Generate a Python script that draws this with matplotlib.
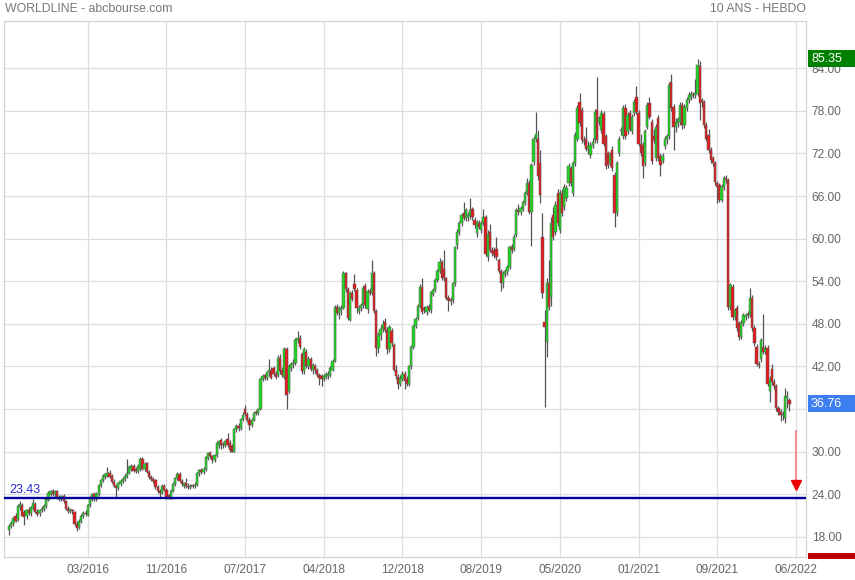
import matplotlib
matplotlib.use('Agg')
import matplotlib.pyplot as plt
from matplotlib.patches import Rectangle
from matplotlib.transforms import blended_transform_factory

plt.rcParams['font.family'] = ['Liberation Sans', 'DejaVu Sans']

# weekly candles, one per week (index 0 = first week shown)
opens = [
  19.0, 19.6, 20.0, 21.0, 20.5, 22.2, 22.5, 21.5, 20.9, 21.8,
  21.4, 22.1, 22.6, 21.5, 21.3, 21.8, 22.0, 22.3, 23.2, 24.0,
  24.5, 24.0, 24.5, 23.6, 23.3, 23.8, 23.0, 22.0, 21.6, 21.8,
  21.5, 19.8, 19.4, 20.3, 21.0, 21.4, 21.1, 22.5, 23.3, 24.0,
  23.3, 24.0, 25.3, 26.0, 26.5, 26.6, 27.0, 26.6, 25.8, 25.2,
  24.9, 25.5, 25.9, 26.2, 26.6, 27.0, 27.6, 28.0, 27.5, 27.3,
  27.5, 29.0, 27.6, 28.4, 27.2, 26.4, 26.1, 26.0, 25.0, 24.5,
  24.2, 25.2, 24.6, 23.9, 23.5, 24.5, 25.5, 26.3, 26.9, 25.9,
  25.2, 25.6, 25.2, 25.0, 25.2, 25.1, 25.3, 27.0, 27.4, 27.1,
  27.5, 29.1, 29.8, 29.4, 28.8, 29.5, 31.0, 31.6, 31.0, 30.9,
  31.8, 31.2, 30.8, 30.0, 33.2, 33.6, 33.3, 34.6, 36.0, 35.3,
  34.5, 33.8, 34.5, 35.6, 35.4, 36.0, 40.2, 40.8, 40.4, 41.2,
  41.5, 41.8, 41.0, 40.8, 43.2, 41.5, 40.5, 44.5, 38.5, 41.8,
  42.3, 42.5, 45.8, 46.0, 43.7, 41.3, 44.0, 42.0, 43.0, 41.5,
  42.0, 41.5, 40.8, 40.6, 40.2, 40.5, 40.6, 40.8, 41.5, 42.8,
  50.4, 49.6, 50.0, 50.3, 55.2, 52.9, 48.6, 52.3, 53.6, 52.8,
  49.8, 50.2, 50.6, 53.3, 50.1, 52.6, 52.3, 55.1, 49.8, 44.6,
  46.5, 47.3, 48.2, 47.2, 44.4, 47.0, 45.0, 41.5, 40.5, 39.6,
  40.3, 41.0, 40.2, 39.6, 42.0, 44.8, 47.7, 48.8, 50.5, 53.2,
  50.2, 49.7, 50.4, 50.0, 52.2, 52.8, 54.2, 55.5, 56.7, 55.8,
  54.4, 51.6, 51.4, 51.4, 53.7, 59.1, 61.0, 62.2, 63.6, 62.9,
  63.0, 63.2, 64.2, 62.6, 60.8, 62.2, 61.2, 62.2, 63.1, 57.4,
  61.0, 58.4, 58.4, 58.6, 57.0, 55.5, 53.7, 55.0, 55.5, 56.0,
  58.8, 58.6, 60.5, 64.0, 63.8, 64.2, 65.1, 66.4, 67.8, 63.8,
  70.8, 74.1, 74.0, 70.6, 60.3, 48.3, 45.5, 53.7, 51.8, 63.3,
  61.0, 66.4, 61.2, 66.4, 64.5, 65.7, 67.8, 69.9, 66.4, 70.6,
  74.1, 79.3, 78.1, 73.9, 74.1, 72.7, 71.8, 73.2, 73.9, 78.1,
  76.5, 75.3, 77.6, 74.4, 72.0, 70.6, 72.5, 69.0, 63.6, 72.0,
  75.1, 74.4, 78.4, 75.1, 77.7, 75.1, 77.7, 80.0, 77.7, 73.4,
  73.2, 70.6, 75.8, 79.1, 76.5, 74.5, 71.3, 77.0, 71.6, 71.0,
  73.0, 74.0, 74.4, 82.1, 78.6, 75.8, 76.3, 76.5, 78.8, 76.0,
  78.4, 79.5, 80.0, 80.4, 80.2, 80.5, 84.3, 79.5, 79.3, 76.0,
  74.6, 72.5, 71.3, 70.6, 67.8, 67.6, 65.5, 67.3, 68.5, 68.3,
  50.4, 53.2, 49.0, 50.2, 48.1, 46.2, 48.1, 49.0, 49.4, 49.3,
  51.6, 47.4, 44.8, 42.4, 43.0, 44.8, 44.1, 44.6, 38.5, 41.7,
  39.8, 39.2, 36.1, 35.6, 35.2, 34.8, 37.6, 37.3,
]
highs = [
  19.8, 20.3, 20.8, 21.3, 22.6, 23.0, 22.8, 21.8, 22.0, 22.2,
  22.4, 23.3, 22.9, 21.9, 22.0, 22.3, 22.6, 23.5, 24.4, 24.6,
  24.7, 24.6, 24.6, 23.9, 23.9, 24.0, 23.2, 22.4, 22.1, 22.0,
  21.7, 20.2, 20.5, 21.2, 21.7, 21.8, 22.7, 23.7, 24.2, 24.3,
  24.3, 25.5, 26.2, 26.9, 27.0, 27.8, 27.4, 26.9, 26.1, 25.5,
  25.8, 26.1, 26.4, 26.9, 29.0, 28.1, 28.3, 28.2, 27.8, 28.2,
  29.2, 29.2, 28.5, 28.6, 27.4, 26.7, 26.4, 26.2, 25.3, 24.8,
  25.5, 25.4, 24.9, 24.1, 24.7, 25.7, 26.5, 27.2, 27.1, 26.1,
  25.8, 26.3, 25.6, 25.5, 25.4, 25.8, 27.2, 27.6, 27.7, 27.8,
  29.4, 30.0, 30.1, 29.6, 29.7, 31.5, 31.7, 31.9, 31.3, 31.7,
  32.6, 31.6, 31.1, 33.4, 33.9, 34.0, 34.8, 35.6, 36.6, 35.6,
  34.9, 34.8, 35.7, 35.9, 36.2, 40.4, 40.9, 41.0, 41.4, 43.0,
  41.9, 42.0, 41.3, 43.6, 43.8, 41.9, 44.8, 44.7, 42.3, 42.6,
  43.0, 46.0, 47.0, 46.4, 44.0, 44.8, 44.5, 43.5, 43.4, 42.5,
  42.4, 41.8, 41.1, 40.9, 41.0, 41.2, 41.3, 42.0, 43.0, 50.6,
  50.8, 50.5, 50.6, 55.4, 55.3, 53.2, 52.6, 52.8, 55.0, 53.0,
  50.7, 51.0, 53.5, 53.8, 52.9, 53.0, 57.0, 55.4, 50.1, 46.8,
  47.8, 48.5, 48.8, 47.5, 47.8, 47.4, 45.3, 42.2, 41.0, 40.8,
  41.3, 41.4, 40.6, 42.2, 45.0, 47.9, 49.0, 50.8, 53.6, 54.5,
  50.5, 50.7, 50.8, 52.7, 53.1, 54.5, 55.8, 57.3, 57.0, 58.4,
  54.6, 52.0, 51.8, 53.9, 59.0, 61.3, 62.5, 63.6, 65.2, 64.3,
  63.8, 65.8, 64.5, 63.0, 62.7, 62.6, 62.5, 64.2, 63.4, 61.2,
  62.0, 58.9, 58.8, 60.2, 57.3, 55.8, 55.4, 55.8, 56.3, 59.1,
  59.2, 60.6, 64.3, 64.9, 64.6, 65.4, 66.7, 68.6, 68.2, 70.7,
  74.4, 77.8, 75.3, 72.5, 63.6, 50.0, 54.5, 57.0, 63.0, 64.5,
  65.3, 67.0, 66.9, 67.0, 67.7, 67.6, 70.6, 70.3, 71.0, 75.0,
  78.8, 80.5, 78.6, 74.5, 75.8, 73.8, 73.6, 74.2, 78.3, 82.8,
  77.3, 78.1, 78.0, 74.8, 72.4, 72.2, 73.0, 69.4, 71.0, 74.5,
  75.7, 78.8, 78.9, 77.8, 78.1, 77.6, 79.7, 81.5, 78.1, 74.8,
  73.6, 75.5, 79.2, 80.0, 76.9, 75.5, 76.2, 77.4, 72.0, 72.0,
  74.5, 74.8, 82.1, 83.2, 79.0, 77.0, 77.2, 79.2, 79.3, 79.0,
  80.0, 80.6, 80.8, 80.7, 82.5, 85.35, 85.0, 79.8, 79.6, 76.4,
  75.4, 72.9, 71.7, 71.0, 68.1, 67.9, 67.7, 68.9, 69.0, 68.6,
  53.7, 53.6, 50.2, 50.6, 48.4, 48.5, 49.5, 49.6, 49.8, 53.0,
  52.0, 47.8, 45.2, 42.8, 46.0, 49.4, 45.0, 45.0, 40.7, 42.3,
  40.2, 39.6, 36.5, 36.0, 35.8, 39.0, 38.5, 37.6,
]
lows = [
  18.3, 19.2, 19.6, 20.1, 20.2, 21.8, 20.9, 19.7, 20.5, 21.1,
  21.0, 21.8, 21.3, 20.9, 21.0, 21.5, 21.7, 22.1, 23.0, 23.7,
  23.8, 23.6, 23.3, 23.1, 23.0, 22.8, 21.8, 21.4, 21.3, 21.2,
  19.6, 18.8, 19.1, 20.0, 20.7, 20.9, 20.9, 22.2, 23.0, 23.0,
  23.0, 23.8, 25.0, 25.7, 26.2, 26.4, 26.3, 25.6, 25.0, 23.5,
  24.6, 25.2, 25.6, 25.9, 26.3, 26.8, 27.3, 27.1, 27.0, 27.0,
  27.3, 27.4, 27.3, 27.0, 26.2, 25.9, 25.6, 24.8, 24.2, 23.6,
  24.0, 24.4, 23.4, 23.3, 23.3, 24.3, 25.2, 26.0, 25.7, 25.2,
  24.9, 24.9, 24.8, 24.8, 24.9, 24.9, 25.1, 26.6, 26.8, 26.9,
  27.3, 28.8, 29.1, 28.4, 28.5, 29.3, 30.5, 30.4, 30.5, 30.6,
  30.7, 30.0, 29.9, 29.9, 32.8, 32.9, 33.1, 34.3, 35.0, 34.2,
  33.1, 33.5, 34.3, 35.1, 35.1, 35.9, 39.9, 40.1, 40.1, 40.6,
  40.2, 40.6, 40.2, 40.5, 41.0, 40.5, 40.2, 36.0, 38.2, 41.3,
  41.8, 42.2, 45.3, 44.5, 41.0, 41.0, 41.8, 41.7, 41.3, 41.0,
  41.1, 40.5, 39.4, 39.2, 39.9, 40.2, 40.3, 40.5, 41.3, 42.6,
  49.2, 48.7, 49.3, 50.1, 52.5, 48.5, 48.4, 51.2, 52.6, 49.6,
  49.4, 49.8, 50.3, 50.2, 49.6, 52.0, 52.1, 49.5, 43.5, 43.9,
  45.8, 46.9, 46.9, 43.8, 44.0, 44.9, 41.3, 40.2, 38.8, 39.2,
  39.9, 38.8, 39.2, 39.3, 41.7, 44.5, 47.4, 48.5, 50.2, 49.4,
  49.5, 49.3, 49.7, 49.6, 51.9, 52.5, 53.9, 55.2, 54.2, 54.1,
  51.3, 49.8, 50.6, 51.0, 53.4, 58.6, 60.5, 61.8, 62.6, 62.5,
  62.5, 62.8, 62.7, 61.5, 60.3, 61.3, 60.8, 61.9, 57.6, 56.8,
  58.1, 57.6, 57.3, 57.0, 55.2, 52.7, 53.0, 54.6, 54.9, 55.7,
  58.0, 58.2, 60.2, 63.4, 63.3, 63.9, 64.8, 66.1, 63.5, 59.0,
  70.4, 73.6, 68.2, 65.0, 51.6, 36.3, 43.4, 50.0, 50.5, 59.8,
  60.5, 61.8, 60.8, 63.2, 64.0, 65.3, 67.4, 67.4, 66.0, 70.2,
  73.8, 75.9, 73.5, 73.2, 72.3, 71.9, 71.3, 72.8, 73.5, 73.5,
  76.0, 74.9, 73.0, 69.8, 70.0, 70.2, 69.5, 61.7, 63.2, 71.6,
  74.6, 74.0, 74.0, 74.7, 75.1, 74.7, 77.3, 77.5, 73.0, 71.6,
  68.6, 70.2, 75.4, 76.8, 70.5, 73.5, 70.9, 70.9, 68.9, 70.6,
  72.6, 73.4, 74.0, 78.0, 72.5, 75.0, 75.8, 76.0, 75.5, 75.6,
  78.0, 79.1, 79.6, 79.8, 79.8, 80.1, 76.7, 78.6, 75.6, 73.7,
  72.1, 70.7, 70.2, 67.6, 65.0, 65.1, 65.1, 66.9, 67.9, 50.0,
  50.0, 48.6, 48.6, 47.0, 45.8, 45.9, 47.7, 48.6, 48.8, 49.0,
  47.0, 44.9, 42.0, 41.8, 42.6, 43.7, 43.7, 39.2, 37.0, 39.4,
  38.9, 35.7, 35.2, 34.3, 34.5, 34.0, 36.2, 35.8,
]
closes = [
  19.6, 20.0, 20.6, 20.3, 22.3, 22.6, 21.0, 20.8, 21.8, 21.4,
  22.2, 22.8, 21.5, 21.2, 21.8, 22.0, 22.3, 23.3, 24.2, 24.4,
  24.0, 24.4, 23.5, 23.4, 23.7, 23.0, 22.0, 21.6, 21.9, 21.6,
  19.8, 19.3, 20.3, 21.0, 21.4, 21.2, 22.5, 23.5, 24.0, 23.3,
  24.0, 25.3, 26.0, 26.6, 26.8, 27.0, 26.5, 25.8, 25.2, 24.9,
  25.6, 25.9, 26.2, 26.6, 27.0, 27.8, 28.0, 27.3, 27.3, 28.0,
  29.0, 27.6, 28.3, 27.2, 26.4, 26.1, 25.9, 25.0, 24.4, 24.2,
  25.2, 24.6, 23.6, 23.5, 24.5, 25.5, 26.3, 26.8, 25.9, 25.4,
  25.6, 25.1, 25.0, 25.2, 25.1, 25.3, 27.0, 27.4, 27.1, 27.5,
  29.2, 29.8, 29.4, 28.8, 29.5, 31.2, 31.5, 31.0, 30.9, 31.5,
  30.9, 30.2, 30.0, 33.2, 33.6, 33.3, 34.6, 35.2, 35.3, 34.5,
  33.8, 34.5, 35.5, 35.4, 36.0, 40.2, 40.6, 40.4, 41.2, 41.5,
  40.4, 40.9, 40.5, 43.2, 41.3, 40.8, 44.5, 38.0, 42.0, 42.3,
  42.5, 45.8, 46.0, 44.8, 41.3, 44.4, 42.1, 43.0, 41.6, 42.2,
  41.5, 40.8, 40.4, 40.2, 40.7, 40.9, 41.0, 41.8, 42.8, 50.4,
  49.6, 50.2, 50.3, 55.2, 52.9, 48.8, 52.3, 51.5, 52.9, 50.3,
  50.3, 50.6, 53.0, 50.6, 52.6, 52.3, 55.1, 49.8, 44.6, 46.5,
  47.3, 48.0, 47.2, 44.4, 47.5, 45.3, 41.5, 40.6, 39.6, 40.4,
  41.0, 40.0, 39.6, 42.0, 44.8, 47.7, 48.7, 50.5, 53.2, 49.7,
  50.0, 50.4, 50.0, 52.5, 52.8, 54.2, 55.5, 56.7, 54.5, 54.4,
  51.6, 51.3, 51.2, 53.7, 58.8, 61.0, 62.2, 63.3, 62.9, 64.0,
  63.4, 64.0, 63.1, 61.9, 62.4, 61.7, 62.2, 63.1, 57.9, 60.6,
  58.4, 58.0, 57.7, 57.4, 55.5, 53.7, 55.1, 55.5, 56.0, 58.8,
  58.4, 60.3, 64.0, 63.8, 64.3, 65.1, 66.4, 67.8, 63.8, 70.4,
  74.1, 74.8, 68.9, 66.2, 52.3, 47.6, 53.7, 50.4, 62.2, 60.3,
  64.8, 62.2, 66.4, 63.6, 67.3, 67.1, 70.2, 67.8, 70.6, 74.6,
  78.4, 76.3, 73.9, 73.7, 72.7, 73.0, 73.2, 73.6, 77.9, 73.9,
  77.0, 77.7, 73.4, 70.2, 70.4, 71.8, 69.9, 63.6, 70.6, 74.1,
  75.3, 78.4, 74.4, 77.4, 75.5, 77.2, 79.3, 77.9, 73.4, 72.0,
  70.2, 75.1, 78.8, 77.2, 70.9, 73.9, 75.8, 71.3, 70.4, 71.6,
  74.1, 74.4, 81.7, 78.4, 75.8, 76.4, 76.8, 78.8, 76.0, 78.6,
  79.6, 80.2, 80.4, 80.2, 80.5, 84.5, 79.1, 79.3, 76.0, 74.1,
  72.5, 71.1, 70.6, 68.0, 67.3, 65.5, 67.3, 68.5, 68.3, 50.4,
  53.5, 49.0, 49.9, 47.4, 46.2, 48.1, 49.2, 49.3, 49.2, 51.6,
  47.4, 45.3, 42.4, 42.2, 45.7, 44.1, 44.6, 39.6, 40.3, 39.8,
  39.3, 36.1, 35.6, 35.2, 35.3, 37.8, 37.9, 36.76,
]

tick_weeks = [36, 72, 108, 144, 180, 216, 252, 288, 324, 360]
tick_labels = ['03/2016', '11/2016', '07/2017', '04/2018', '12/2018',
               '08/2019', '05/2020', '01/2021', '09/2021', '06/2022']
price_ticks = [18, 24, 30, 36, 42, 48, 54, 60, 66, 72, 78, 84]
support = 23.43
last_price = 36.76
max_price = 85.35
target_from, target_to = 32.9, 24.6

W, H = 855, 580
fig = plt.figure(figsize=(W / 100, H / 100), dpi=100)
ax = fig.add_axes([4 / W, 23 / H, 802 / W, 536 / H])

# candles
weeks = list(range(len(closes)))
colors = ['#1fd81f' if c >= o else '#e31b1b' for o, c in zip(opens, closes)]
bottoms = [min(o, c) for o, c in zip(opens, closes)]
heights = [max(abs(c - o), 0.18) for o, c in zip(opens, closes)]
ax.vlines(weeks, lows, highs, color='#555555', lw=0.9, zorder=2)
ax.bar(weeks, heights, bottom=bottoms, width=1.05, color=colors,
       edgecolor='#5a5a5a', linewidth=0.35, zorder=3)

# support line
ax.axhline(support, color='#00009a', lw=1.7, zorder=4)
ax.text(0, support + 0.35, '%.2f' % support, color='#2a2ad0',
        fontsize=9, va='bottom', ha='left', zorder=5)

# target arrow
ax.plot([360, 360], [target_from, target_to + 1.0], color='#f08484', lw=1.3, zorder=4)
ax.plot([360], [target_to + 0.65], marker='v', ms=6.5, color='#ee0000', zorder=5, clip_on=False)

ax.set_xticks(tick_weeks)
ax.set_xticklabels(tick_labels)
ax.set_yticks(price_ticks)
# the 36.00 label sits under the last-price box in the reference
ax.set_yticklabels(['' if p == 36 else '%.2f' % p for p in price_ticks])
ax.yaxis.tick_right()
ax.tick_params(axis='both', length=0, labelsize=8.6, labelcolor='#666666')
ax.tick_params(axis='y', pad=4)
ax.tick_params(axis='x', pad=5)
ax.grid(True, color='#dddddd', lw=0.9)
ax.set_axisbelow(True)
for s in ax.spines.values():
  s.set_color('#d4d4d4')
  s.set_linewidth(0.9)

ax.set_xlim(-2.3, 364.6)
ax.set_ylim(15.17, 90.66)

# price boxes on the right
trans = blended_transform_factory(fig.transFigure, ax.transData)
box_h = 17 / 7.104
for value, color in [(max_price, '#008000'), (last_price, '#3d7ff0')]:
  ax.add_patch(Rectangle((808 / W, value - box_h / 2), 47 / W, box_h, transform=trans,
                         facecolor=color, edgecolor='none', clip_on=False, zorder=10))
  ax.text(811 / W, value, '%.2f' % value, transform=trans, color='white',
          fontsize=9, va='center', ha='left', zorder=11, clip_on=False)
fig.patches.append(Rectangle((808 / W, 21 / H), 47 / W, 6 / H, transform=fig.transFigure,
                             facecolor='#c00000', edgecolor='none'))

fig.text(5 / W, 1 - 9 / H, 'WORLDLINE - abcbourse.com', color='#777777',
         fontsize=8.8, va='center', ha='left')
fig.text(806 / W, 1 - 9 / H, '10 ANS - HEBDO', color='#777777',
         fontsize=8.8, va='center', ha='right')

fig.savefig('out.png', dpi=100)
